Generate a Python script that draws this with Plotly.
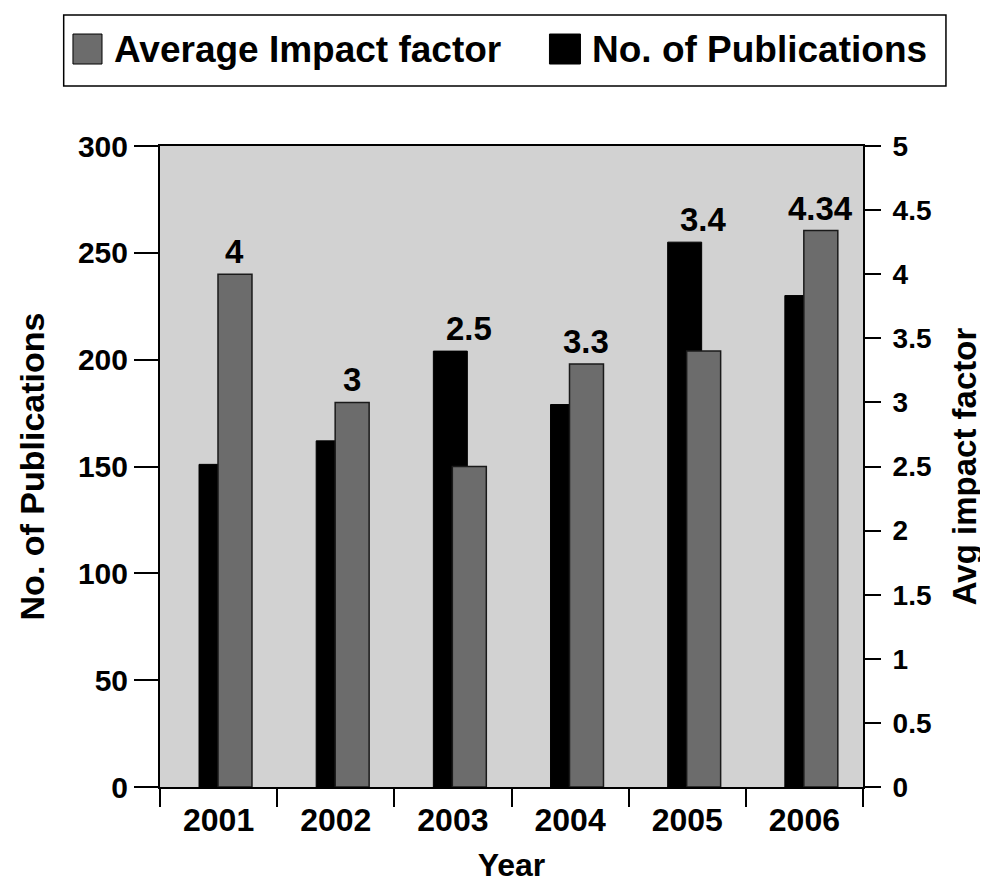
import plotly.graph_objects as go

# ---- data ----
years = ["2001", "2002", "2003", "2004", "2005", "2006"]
publications = [151, 162, 204, 179, 255, 230]          # left axis
impact_factor = [4, 3, 2.5, 3.3, 3.4, 4.34]             # right axis
impact_labels = ["4", "3", "2.5", "3.3", "3.4", "4.34"]
pub_ticks = [0, 50, 100, 150, 200, 250, 300]
if_ticks = [0, 0.5, 1, 1.5, 2, 2.5, 3, 3.5, 4, 4.5, 5]
if_tick_text = ["0", "0.5", "1", "1.5", "2", "2.5", "3", "3.5", "4", "4.5", "5"]

PUB_MAX = 300
IF_MAX = 5

FONT = "Liberation Sans, Arial, Helvetica, sans-serif"
BAR_GRAY = "#6c6c6c"
PLOT_BG = "#d2d2d2"
BLACK = "#000000"

fig = go.Figure()
fig.add_trace(go.Bar(
    x=years, y=publications, name="No. of Publications",
    marker=dict(color=BLACK, line=dict(color=BLACK, width=1)),
    width=0.29, offset=-0.167, yaxis="y", showlegend=False,
))
fig.add_trace(go.Bar(
    x=years, y=impact_factor, name="Average Impact factor",
    marker=dict(color=BAR_GRAY, line=dict(color="#1a1a1a", width=1.5)),
    width=0.29, offset=-0.005, yaxis="y2", showlegend=False,
))

# value labels above the taller bar of each pair
annotations = []
for i, (p, v, lab) in enumerate(zip(publications, impact_factor, impact_labels)):
    top = max(p, v * PUB_MAX / IF_MAX)
    annotations.append(dict(
        x=i, y=top, xref="x", yref="y", text=lab, showarrow=False,
        xanchor="center", yanchor="bottom", xshift=16, yshift=2,
        font=dict(family=FONT, size=33, color=BLACK, weight="bold"),
    ))

# legend drawn as a boxed strip at the top
legend_items = [
    ("Average Impact factor", BAR_GRAY, -0.1238, -0.0825, -0.0683),
    ("No. of Publications", BLACK, 0.5540, 0.5981, 0.6123),
]
shapes = [dict(type="rect", xref="paper", yref="paper",
               x0=-0.137, x1=1.118, y0=1.0936, y1=1.2044,
               line=dict(color=BLACK, width=1.5), fillcolor="white", layer="below")]
for text, col, sx0, sx1, tx in legend_items:
    shapes.append(dict(type="rect", xref="paper", yref="paper",
                       x0=sx0, x1=sx1, y0=1.1279, y1=1.1747,
                       line=dict(color=BLACK, width=1), fillcolor=col))
    annotations.append(dict(
        x=tx, y=1.1513, xref="paper", yref="paper", text=text, showarrow=False,
        xanchor="left", yanchor="middle",
        font=dict(family=FONT, size=37, color=BLACK, weight="bold"),
    ))

fig.update_layout(
    width=980, height=875,
    margin=dict(l=152, r=125, t=138, b=96, autoexpand=False),
    paper_bgcolor="white", plot_bgcolor=PLOT_BG,
    barmode="overlay",
    font=dict(family=FONT, color=BLACK),
    annotations=annotations, shapes=shapes,
    xaxis=dict(
        type="category", range=[-0.5, 5.5], tickson="boundaries",
        ticks="outside", ticklen=18, tickwidth=2, tickcolor=BLACK,
        showline=True, linewidth=2, linecolor=BLACK, mirror=True,
        showgrid=False, ticklabelstandoff=4,
        tickfont=dict(family=FONT, size=32, color=BLACK, weight="bold"),
        title=dict(text="Year", standoff=17,
                   font=dict(family=FONT, size=32, color=BLACK, weight="bold")),
    ),
    yaxis=dict(
        range=[0, PUB_MAX], tickvals=pub_ticks,
        ticks="outside", ticklen=24, tickwidth=2, tickcolor=BLACK,
        showline=True, linewidth=2, linecolor=BLACK,
        showgrid=False, zeroline=False, ticklabelstandoff=0,
        tickfont=dict(family=FONT, size=30, color=BLACK, weight="bold"),
        title=dict(text="No. of Publications", standoff=23,
                   font=dict(family=FONT, size=34, color=BLACK, weight="bold")),
    ),
    yaxis2=dict(
        overlaying="y", side="right", range=[0, IF_MAX],
        tickvals=if_ticks, ticktext=if_tick_text,
        ticks="outside", ticklen=16, tickwidth=2, tickcolor=BLACK,
        showline=True, linewidth=2, linecolor=BLACK,
        showgrid=False, zeroline=False, ticklabelstandoff=6,
        tickfont=dict(family=FONT, size=28, color=BLACK, weight="bold"),
        title=dict(text="Avg impact factor", standoff=22,
                   font=dict(family=FONT, size=33, color=BLACK, weight="bold")),
    ),
)

fig.write_html("out.html")
